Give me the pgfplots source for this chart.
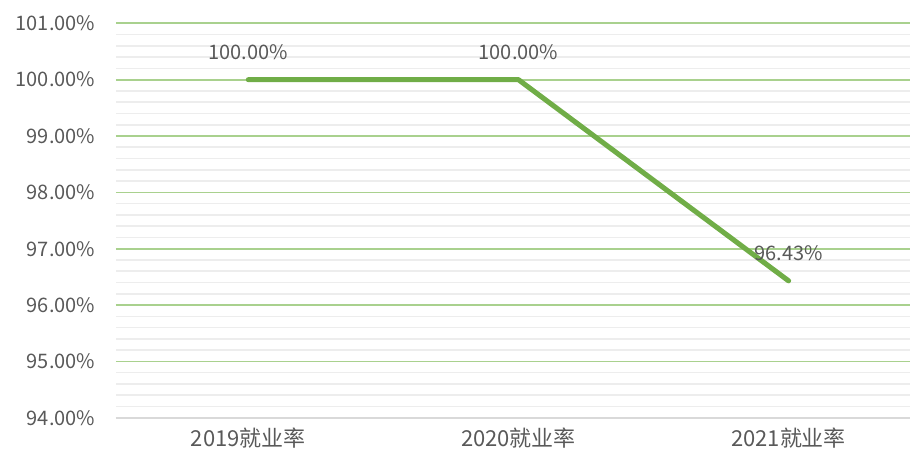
\documentclass[border=0pt]{standalone}
\usepackage{fontspec}
\setmainfont{Noto Sans CJK SC}
\usepackage{pgfplots}
\pgfplotsset{compat=1.18}
\definecolor{lgreen}{HTML}{70AD47}
\definecolor{ggrid}{HTML}{A9D18E}
\definecolor{mgrid}{HTML}{EDEDED}
\definecolor{txt}{HTML}{595959}
\begin{document}
\begin{tikzpicture}
\begin{axis}[
    scale only axis,
    width=596pt, height=296pt,
    xmin=-0.49, xmax=2.45,
    ymin=94, ymax=101,
    xtick={0,1,2},
    xticklabels={2019就业率,2020就业率,2021就业率},
    ytick={94,95,96,97,98,99,100,101},
    minor ytick={94.2,94.4,94.6,94.8,95.2,95.4,95.6,95.8,96.2,96.4,96.6,96.8,
                 97.2,97.4,97.6,97.8,98.2,98.4,98.6,98.8,99.2,99.4,99.6,99.8,
                 100.2,100.4,100.6,100.8},
    ymajorgrids, yminorgrids,
    major grid style={ggrid, line width=1.3pt},
    minor grid style={mgrid, line width=1.2pt},
    major tick length=0pt, minor tick length=0pt,
    axis x line*=bottom, axis y line*=left,
    x axis line style={draw=black!15, line width=1.2pt},
    y axis line style={draw=none},
    /pgf/number format/assume math mode=true,
    yticklabel={\pgfmathprintnumber[fixed,zerofill,precision=2]{\tick}\%},
    tick label style={text=txt},
    yticklabel style={font=\fontsize{15}{17}\selectfont, xshift=-12pt},
    xticklabel style={font=\fontsize{16.5}{18}\selectfont, yshift=-4pt},
    clip=false,
]
\addplot[lgreen, line width=3.8pt, line cap=round, line join=round,
    point meta=explicit symbolic,
    nodes near coords,
    every node near coord/.append style={font=\fontsize{15}{17}\selectfont, text=txt, anchor=south, inner sep=0pt, yshift=13pt}]
    coordinates {(0,100)[100.00\%] (1,100)[100.00\%] (2,96.43)[96.43\%]};
\end{axis}
\path (-87pt,-27pt) rectangle (596pt,313.5pt);
\end{tikzpicture}
\end{document}
